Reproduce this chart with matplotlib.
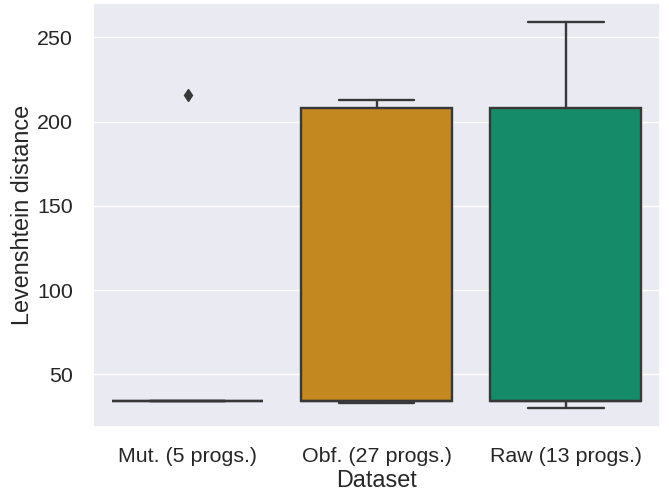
import numpy as np
import matplotlib
matplotlib.use('Agg')
import matplotlib.pyplot as plt
import seaborn as sns

categories = ['Mut. (5 progs.)', 'Obf. (27 progs.)', 'Raw (13 progs.)']

mut = [34, 34, 34, 34, 216]
obf = [33, 33, 33, 33, 33, 34, 34, 34, 34, 34, 34, 34, 34, 34, 60, 120, 180, 205,
       208, 208, 208, 209, 210, 211, 212, 213, 213]
raw = [30, 33, 34, 34, 34, 34, 34, 120, 180, 208, 208, 230, 259]

base_colors = sns.color_palette('colorblind', 3)


def main():
    sns.set_theme(style='darkgrid', font_scale=1.4)
    plt.rcParams['font.family'] = ['Liberation Sans', 'DejaVu Sans']

    fig, ax = plt.subplots(figsize=(6.69, 4.95), dpi=100)
    line_color = (0.22, 0.22, 0.22)
    lw = 1.7
    bp = ax.boxplot(
        [mut, obf, raw], positions=range(3), widths=0.8, patch_artist=True,
        whis=1.5,
        boxprops=dict(edgecolor=line_color, linewidth=lw),
        whiskerprops=dict(color=line_color, linewidth=lw),
        capprops=dict(color=line_color, linewidth=lw),
        medianprops=dict(color=line_color, linewidth=lw),
        flierprops=dict(marker='d', markerfacecolor=line_color, markeredgecolor=line_color,
                        markersize=6),
    )
    for patch, c in zip(bp['boxes'], base_colors):
        patch.set_facecolor(sns.desaturate(c, 0.75))

    ax.set_xticks(range(3))
    ax.set_xticklabels(categories)
    ax.set_xlim(-0.5, 2.5)
    ax.set_xlabel('Dataset', labelpad=2)
    ax.set_ylabel('Levenshtein distance', labelpad=2)
    ax.set_yticks([50, 100, 150, 200, 250])
    ax.tick_params(axis='both', pad=8.5)
    ax.xaxis.grid(False)

    fig.subplots_adjust(left=0.139, right=0.987, top=0.994, bottom=0.137)
    fig.savefig('out.png')


if __name__ == '__main__':
    main()
